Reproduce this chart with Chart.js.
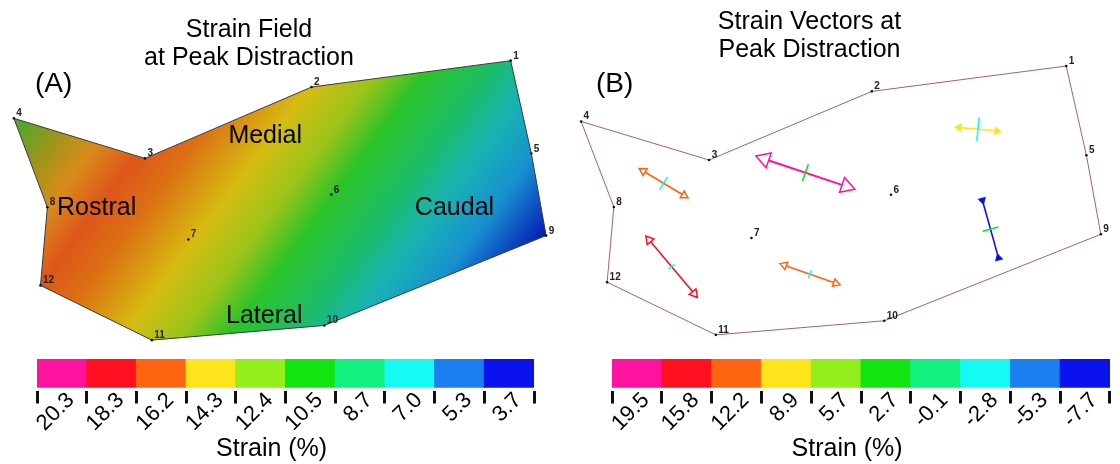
<!DOCTYPE html>
<html><head><meta charset="utf-8">
<script src="https://cdn.jsdelivr.net/npm/chart.js@4.4.1/dist/chart.umd.min.js"></script>
<style>
html,body{margin:0;padding:0;background:#fff;overflow:hidden;width:1120px;height:464px;position:relative}
canvas{position:absolute}
</style></head><body>
<canvas id="fieldA" width="560" height="350" style="left:0;top:0"></canvas>
<canvas id="fieldB" width="559" height="350" style="left:561px;top:1px"></canvas>
<canvas id="barA" width="560" height="109" style="left:0;top:355px"></canvas>
<canvas id="barB" width="560" height="109" style="left:560px;top:355px"></canvas>
<script>
// ---------------- DATA ----------------
// Node positions (mm, y up)
const nodeIds = ['1','2','3','4','5','6','7','8','9','10','11','12'];
const nodeX = [50.4, 30.2, 13.3, 0.0, 52.5, 32.2, 17.7, 3.4, 54.0, 31.5, 14.0, 2.7];
const nodeY = [28.6, 25.9, 18.6, 22.7, 19.1, 14.9, 10.3, 13.6, 10.7, 1.5, 0.0, 5.6];
// Boundary order of the tissue outline
const outline = ['1','2','3','4','8','12','11','10','9','5','1'];

// Region names and their positions (mm)
const regionNames = ['Medial','Rostral','Caudal','Lateral'];
const regionX = [25.5, 8.4, 44.7, 25.4];
const regionY = [20.2, 12.8, 12.8, 1.8];

// Colorbar tick values (strain %)
const fieldTicks = [20.3, 18.3, 16.2, 14.3, 12.4, 10.5, 8.7, 7.0, 5.3, 3.7];
const vectorTicks = [19.5, 15.8, 12.2, 8.9, 5.7, 2.7, -0.1, -2.8, -5.3, -7.7];
const cellFill = [1, 1, 1, 1, 1, 1, 1, 1, 1, 1];

// Principal strain vectors (panel B): centre (mm), angle (deg, ccw), length (mm), strains (%)
const vecX = [8.57, 23.3, 9.4, 23.78, 41.23, 42.53];
const vecY = [16.13, 17.25, 7.25, 6.45, 21.88, 11.25];
const vecAngle = [-31.5, -18.9, -50.6, -19.8, -5.3, -74.7];
const vecLength = [5.9, 10.8, 8.4, 6.6, 4.7, 6.0];
const vecMajor = [12.4, 19.6, 15.6, 12.0, 9.0, -7.6];
const vecMinor = [-2.6, 2.6, -2.9, -2.7, -2.9, 2.8];
const vecMinorLength = [1.6, 1.9, 0.8, 0.9, 2.5, 1.7];

// ---------------- STYLE ----------------
Chart.defaults.font.family = '"Liberation Sans", Arial, Helvetica, sans-serif';
const binColors = ['#ff12a0','#ff1020','#ff6410','#ffe41c','#92ee1c','#12e412','#12f080','#16faf4','#1a80f0','#0a12f0'];
const headSize = [4.5, 9, 5, 4.5, 3.5, 3.5];
const headFilled = [false, false, false, false, true, true];
const gradFrom = {x: 2.2, y: 32.0}, gradTo = {x: 45.8, y: -0.7};
const gradStops = [[0,'#38b030'],[0.083,'#4ea82a'],[0.156,'#a0941a'],[0.22,'#d88c1a'],[0.294,'#de561a'],[0.367,'#dc7014'],[0.477,'#d6bc12'],[0.56,'#9cc41a'],[0.633,'#2cc428'],[0.734,'#1cbc6c'],[0.807,'#18b2b4'],[0.89,'#1890d0'],[1,'#0418b4']];
const pxPerMm = 10;

const byId = id => nodeIds.indexOf(id);
const outlinePts = outline.map(id => ({x: nodeX[byId(id)], y: nodeY[byId(id)]}));
const nodePts = nodeIds.map((id, i) => ({x: nodeX[i], y: nodeY[i]}));

function strainColor(v) {
  let best = 0;
  for (let i = 1; i < vectorTicks.length; i++)
    if (Math.abs(vectorTicks[i] - v) < Math.abs(vectorTicks[best] - v)) best = i;
  return binColors[best];
}

const textPlugin = {
  id: 'panelText',
  afterDatasetsDraw(chart, args, o) {
    const {ctx, scales: {x, y}} = chart;
    ctx.save();
    ctx.fillStyle = '#222';
    ctx.font = 'bold 10px "Liberation Sans", Arial, sans-serif';
    ctx.textAlign = 'left'; ctx.textBaseline = 'alphabetic';
    nodeIds.forEach((id, i) => {
      ctx.fillText(id, x.getPixelForValue(nodeX[i]) + 2.5, y.getPixelForValue(nodeY[i]) - 2);
    });
    ctx.fillStyle = '#000';
    if (o.regions) {
      ctx.font = '25px "Liberation Sans", Arial, sans-serif';
      ctx.textAlign = 'center';
      regionNames.forEach((n, i) => ctx.fillText(n, x.getPixelForValue(regionX[i]), y.getPixelForValue(regionY[i])));
    }
    ctx.font = '25px "Liberation Sans", Arial, sans-serif';
    ctx.textAlign = 'center';
    o.title.forEach((t, i) => ctx.fillText(t, o.titleX, o.titleY + i * 28));
    ctx.font = '28px "Liberation Sans", Arial, sans-serif';
    ctx.textAlign = 'left';
    ctx.fillText(o.letter, 35, o.letterY);
    ctx.restore();
  }
};

const baseOpts = (xmax, extra) => ({
  responsive: false, animation: false, events: [], devicePixelRatio: 1,
  layout: {padding: 0},
  plugins: Object.assign({legend: {display: false}, tooltip: {enabled: false}}, extra),
  scales: {
    x: {type: 'linear', display: false, min: -1.0, max: xmax},
    y: {type: 'linear', display: false, min: -0.6, max: 34.4}
  }
});

function fieldGradient(c) {
  const chart = c.chart;
  if (!chart.chartArea) return 'rgba(0,0,0,0)';
  const sx = chart.scales.x, sy = chart.scales.y;
  const g = chart.ctx.createLinearGradient(
    sx.getPixelForValue(gradFrom.x), sy.getPixelForValue(gradFrom.y),
    sx.getPixelForValue(gradTo.x), sy.getPixelForValue(gradTo.y));
  gradStops.forEach(s => g.addColorStop(s[0], s[1]));
  return g;
}

// -------- Panel A: strain field --------
new Chart(document.getElementById('fieldA'), {
  type: 'scatter',
  data: {datasets: [
    {data: outlinePts, showLine: true, fill: 'shape', backgroundColor: fieldGradient,
     borderColor: '#3a3a3a', borderWidth: 1, pointRadius: 0, order: 10},
    {data: nodePts, pointRadius: 1.3, pointBackgroundColor: '#111', pointBorderWidth: 0, order: 0}
  ]},
  options: baseOpts(55.0, {panelText: {regions: true, title: ['Strain Field', 'at Peak Distraction'], titleX: 249, titleY: 37, letter: '(A)', letterY: 92}}),
  plugins: [textPlugin]
});

// -------- Panel B: strain vectors --------
const vecDatasets = [];
vecX.forEach((cx, i) => {
  const a = vecAngle[i] * Math.PI / 180;
  const r = headSize[i] / pxPerMm;
  const h = vecLength[i] / 2 - (vecMajor[i] >= 0 ? r : -r * 0.5);
  const col = strainColor(vecMajor[i]);
  const outward = vecMajor[i] >= 0;
  const rotPlus = 90 - vecAngle[i], rotMinus = -90 - vecAngle[i];
  vecDatasets.push({
    data: [{x: cx - h * Math.cos(a), y: vecY[i] - h * Math.sin(a)},
           {x: cx + h * Math.cos(a), y: vecY[i] + h * Math.sin(a)}],
    showLine: true, borderColor: col, borderWidth: vecMajor[i] > 18 ? 2 : 1.6,
    pointStyle: 'triangle', pointRadius: headSize[i],
    pointRotation: outward ? [rotMinus, rotPlus] : [rotPlus, rotMinus],
    pointBackgroundColor: headFilled[i] ? col : '#fff', pointBorderColor: col, pointBorderWidth: 1.5,
    order: 2
  });
  const b = a + Math.PI / 2, m = vecMinorLength[i] / 2;
  vecDatasets.push({
    data: [{x: cx - m * Math.cos(b), y: vecY[i] - m * Math.sin(b)},
           {x: cx + m * Math.cos(b), y: vecY[i] + m * Math.sin(b)}],
    showLine: true, borderColor: strainColor(vecMinor[i]), borderWidth: 1.6, pointRadius: 0, order: 1
  });
});

new Chart(document.getElementById('fieldB'), {
  type: 'scatter',
  data: {datasets: [
    {data: outlinePts, showLine: true, fill: false, borderColor: '#a8606c', borderWidth: 1, pointRadius: 0, order: 10},
    {data: nodePts, pointRadius: 1.3, pointBackgroundColor: '#111', pointBorderWidth: 0, order: 0}
  ].concat(vecDatasets)},
  options: baseOpts(54.9, {panelText: {regions: false, title: ['Strain Vectors at', 'Peak Distraction'], titleX: 248.5, titleY: 28, letter: '(B)', letterY: 91}}),
  plugins: [textPlugin]
});

// -------- Colorbars --------
function makeColorbar(id, ticks, padL, padR) {
  new Chart(document.getElementById(id), {
    type: 'bar',
    data: {labels: ticks.map(v => v.toFixed(1)),
           datasets: [{data: cellFill, backgroundColor: binColors, borderWidth: 0,
                       barPercentage: 1, categoryPercentage: 1, inflateAmount: 0.5}]},
    options: {
      responsive: false, animation: false, events: [], devicePixelRatio: 1,
      layout: {padding: {left: padL, right: padR, top: 4, bottom: 0}},
      plugins: {legend: {display: false}, tooltip: {enabled: false}},
      scales: {
        y: {display: false, min: -0.12, max: 1},
        x: {
          grid: {offset: true, drawOnChartArea: false, tickLength: 13, tickWidth: 3, tickColor: '#111'},
          border: {display: false},
          ticks: {autoSkip: false, minRotation: 45, maxRotation: 45, padding: -16, labelOffset: 9, color: '#000', font: {size: 22}},
          title: {display: true, text: 'Strain (%)    ', color: '#000', font: {size: 25}, padding: 0},
          afterFit(s) { s.height = 73.5; }
        }
      }
    }
  });
}
makeColorbar('barA', fieldTicks, 37, 26);
makeColorbar('barB', vectorTicks, 52, 10);
</script>
</body></html>
